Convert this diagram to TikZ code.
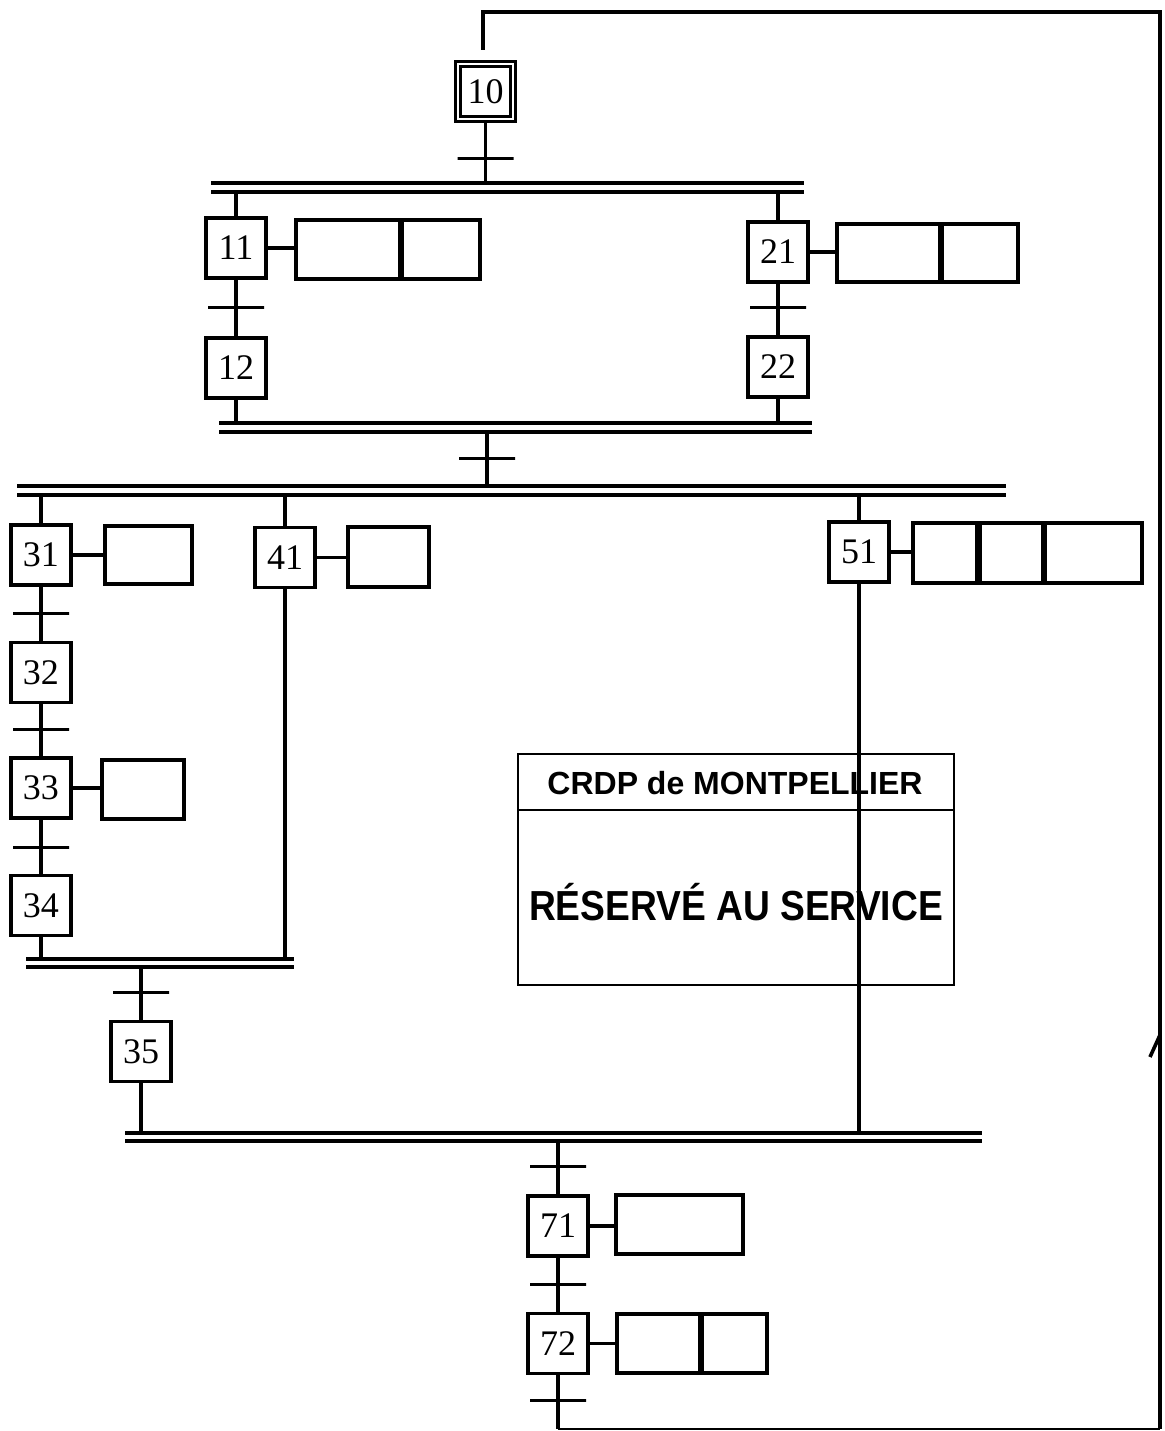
\documentclass[tikz,border=0pt]{standalone}
\usepackage{fontspec}
\setmainfont{Liberation Serif}
\newfontfamily\stampfont{Liberation Sans}
\begin{document}
\begin{tikzpicture}[x=0.5pt,y=-0.5pt,
  ln/.style={line width=1.6pt},
  stp/.style={draw, line width=1.6pt, minimum width=30pt, minimum height=30pt, inner sep=0pt, font=\fontsize{18}{19}\selectfont},
  initstp/.style={draw, double, double distance=1.4pt, line width=1.4pt, minimum width=27.5pt, minimum height=27.5pt, inner sep=0pt, font=\fontsize{18}{19}\selectfont},
  act/.style={draw, line width=1.6pt, inner sep=0pt, minimum height=29.5pt},
  trn/.style={draw, line width=1.5pt, inner sep=0pt, minimum height=0pt, minimum width=28pt},
  bar/.style={line width=1.6pt},
  sep/.style={line width=2.4pt}]
\useasboundingbox (0,0) rectangle (1164,1431);

% stamp
\node[draw, line width=1.3pt, minimum width=218pt, minimum height=115.5pt, inner sep=0pt] (stamp) at (736,869.5) {};
\coordinate (divL) at (518,810);
\coordinate (divR) at (954,810);
\draw[line width=1.3pt] (divL) -- (divR);
\node[font=\stampfont\bfseries\fontsize{16}{18}\selectfont] (crdp) at (735,783) {CRDP de MONTPELLIER};
\node[font=\stampfont\bfseries\fontsize{21}{24}\selectfont] (resv) at (736,902) {\scalebox{0.885}[1]{RÉSERVÉ AU SERVICE}};

% bars
\coordinate (b1tl) at (211,183); \coordinate (b1tr) at (804,183);
\coordinate (b1bl) at (211,192); \coordinate (b1br) at (804,192);
\coordinate (b2tl) at (219,423); \coordinate (b2tr) at (812,423);
\coordinate (b2bl) at (219,432); \coordinate (b2br) at (812,432);
\coordinate (b3tl) at (17,486); \coordinate (b3tr) at (1006,486);
\coordinate (b3bl) at (17,495); \coordinate (b3br) at (1006,495);
\coordinate (b4tl) at (26,959); \coordinate (b4tr) at (294,959);
\coordinate (b4bl) at (26,967); \coordinate (b4br) at (294,967);
\coordinate (b5tl) at (125,1133); \coordinate (b5tr) at (982,1133);
\coordinate (b5bl) at (125,1141); \coordinate (b5br) at (982,1141);
\foreach \b in {1,...,5}{
  \draw[bar] (b\b tl) -- (b\b tr);
  \draw[bar] (b\b bl) -- (b\b br);
}

% steps
\node[initstp] (s10) at (485.5,91.5) {10};
\node[stp] (s11) at (236,248) {11};
\node[stp] (s12) at (236,368) {12};
\node[stp] (s21) at (778,252) {21};
\node[stp] (s22) at (778,367) {22};
\node[stp] (s31) at (41,555) {31};
\node[stp] (s32) at (41,672.5) {32};
\node[stp] (s33) at (41,788) {33};
\node[stp] (s34) at (41,905.5) {34};
\node[stp] (s41) at (285,557.5) {41};
\node[stp] (s35) at (141,1051.5) {35};
\node[stp] (s51) at (859,552) {51};
\node[stp] (s71) at (558,1226) {71};
\node[stp] (s72) at (558,1343.5) {72};

% transitions
\node[trn] (t10) at (485.5,158) {};
\node[trn] (t11) at (236,307) {};
\node[trn] (t21) at (778,307) {};
\node[trn] (t2) at (487,458) {};
\node[trn] (t31) at (41,613) {};
\node[trn] (t32) at (41,729) {};
\node[trn] (t33) at (41,847) {};
\node[trn] (t4) at (141,992) {};
\node[trn] (t5) at (558,1166) {};
\node[trn] (t71) at (558,1284) {};
\node[trn] (t72) at (558,1400) {};

% actions
\node[act, minimum width=52pt] (a11a) at (348,249.5) {};
\node[act, minimum width=40pt] (a11b) at (440,249.5) {};
\node[act, minimum width=51.5pt, minimum height=29pt] (a21a) at (888.5,253) {};
\node[act, minimum width=39pt, minimum height=29pt] (a21b) at (979,253) {};
\node[act, minimum width=43.5pt, minimum height=29pt] (a31) at (148.5,555) {};
\node[act, minimum width=40.5pt, minimum height=30pt] (a41) at (388.5,557) {};
\node[act, minimum width=41pt] (a33) at (143,789.5) {};
\node[act, minimum width=32pt, minimum height=30pt] (a51a) at (945,553) {};
\node[act, minimum width=31.5pt, minimum height=30pt] (a51b) at (1011.5,553) {};
\node[act, minimum width=49.5pt, minimum height=30pt] (a51c) at (1092.5,553) {};
\node[act, minimum width=63.5pt] (a71) at (679.5,1224.5) {};
\node[act, minimum width=41.5pt] (a72a) at (658.5,1343.5) {};
\node[act, minimum width=33.5pt] (a72b) at (733.5,1343.5) {};
% thicker shared edges
\foreach \a in {a11a, a21a, a51b, a72a}
  \draw[sep] (\a.north east) -- (\a.south east);

% action links
\foreach \s/\a in {s11/a11a, s21/a21a, s31/a31, s41/a41, s33/a33, s51/a51a, s71/a71, s72/a72a}
  \draw[ln] (\s.east) -- (\s.east -| \a.west);

% connectors
\draw[ln] (s10.south) -- (t10.center) -- (s10.south |- b1tl);
\draw[ln] (s11.north |- b1bl) -- (s11.north);
\draw[ln] (s21.north |- b1bl) -- (s21.north);
\draw[ln] (s11.south) -- (t11.center) -- (s12.north);
\draw[ln] (s21.south) -- (t21.center) -- (s22.north);
\draw[ln] (s12.south) -- (s12.south |- b2tl);
\draw[ln] (s22.south) -- (s22.south |- b2tl);
\draw[ln] (t2.center |- b2bl) -- (t2.center) -- (t2.center |- b3tl);
\draw[ln] (s31.north |- b3bl) -- (s31.north);
\draw[ln] (s41.north |- b3bl) -- (s41.north);
\draw[ln] (s51.north |- b3bl) -- (s51.north);
\draw[ln] (s31.south) -- (t31.center) -- (s32.north);
\draw[ln] (s32.south) -- (t32.center) -- (s33.north);
\draw[ln] (s33.south) -- (t33.center) -- (s34.north);
\draw[ln] (s34.south) -- (s34.south |- b4tl);
\draw[ln] (s41.south) -- (s41.south |- b4tl);
\draw[ln] (t4.center |- b4bl) -- (t4.center) -- (s35.north);
\draw[ln] (s35.south) -- (s35.south |- b5tl);
\draw[ln] (s51.south) -- (s51.south |- b5tl);
\draw[ln] (t5.center |- b5bl) -- (t5.center) -- (s71.north);
\draw[ln] (s71.south) -- (t71.center) -- (s72.north);

% return loop
\coordinate (rb) at (558,1429);
\coordinate (rbr) at (1160,1429);
\coordinate (rtr) at (1160,12);
\coordinate (rtl) at (483,12);
\coordinate (rend) at (483,50);
\draw[ln] (s72.south) -- (t72.center) -- (rb);
\draw[line width=1pt] (rb) -- (rbr);
\draw[line width=1.8pt] (rbr) -- (rtr) -- (rtl) -- (rend);
\coordinate (barbA) at (1150,1057);
\coordinate (barbB) at (1160,1035);
\draw[line width=1.8pt] (barbA) -- (barbB);
\end{tikzpicture}
\end{document}
